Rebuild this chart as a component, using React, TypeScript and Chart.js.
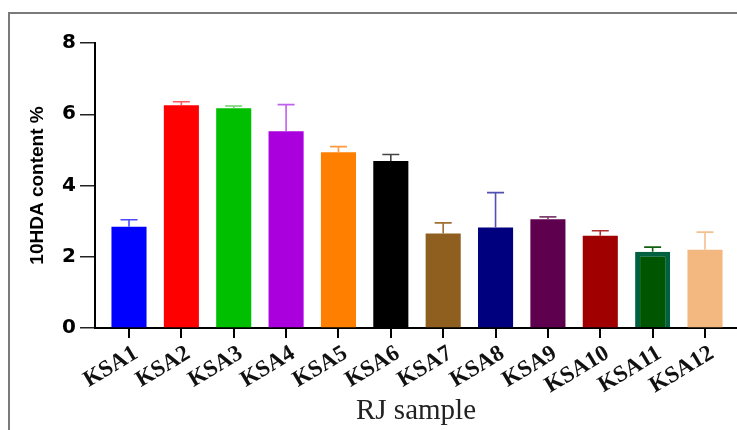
import React, { useEffect, useRef } from "react";
import { Chart, registerables } from "chart.js";

Chart.register(...registerables);

const categories = ["KSA1", "KSA2", "KSA3", "KSA4", "KSA5", "KSA6", "KSA7", "KSA8", "KSA9", "KSA10", "KSA11", "KSA12"];
const means = [2.84, 6.25, 6.17, 5.52, 4.93, 4.69, 2.65, 2.82, 3.05, 2.59, 2.14, 2.2];
const sds = [0.2, 0.1, 0.06, 0.75, 0.16, 0.18, 0.3, 0.98, 0.07, 0.14, 0.13, 0.49];
const barColors = ["#0000ff", "#ff0000", "#00bf00", "#aa00dd", "#ff8000", "#000000", "#8f5f20", "#00007f", "#5f004f", "#a00000", "#005500", "#f2b880"];
const barBorderColors = ["#0000ff", "#ff0000", "#00bf00", "#aa00dd", "#ff8000", "#000000", "#8f5f20", "#00007f", "#5f004f", "#a00000", "#006040", "#f2b880"];
const barBorderWidths = [0, 0, 0, 0, 0, 0, 0, 0, 0, 0, 5, 0];
const errColors = ["#4a4aff", "#ff5a5a", "#70d070", "#c060f0", "#ff9a40", "#444444", "#a07030", "#5050b0", "#804070", "#b03030", "#106010", "#f4c090"];
const yTicks = [0, 2, 4, 6, 8];

const errorBarPlugin = {
  id: "errorBars",
  afterDatasetsDraw(chart: any) {
    const ctx = chart.ctx;
    const meta = chart.getDatasetMeta(0);
    const yScale = chart.scales.y;
    ctx.save();
    meta.data.forEach((el: any, i: number) => {
      const x = el.x;
      const top = yScale.getPixelForValue(means[i] + sds[i]);
      const base = el.y;
      ctx.strokeStyle = errColors[i];
      ctx.lineWidth = 1.6;
      ctx.beginPath();
      ctx.moveTo(x, base);
      ctx.lineTo(x, top);
      ctx.moveTo(x - 8.5, top);
      ctx.lineTo(x + 8.5, top);
      ctx.stroke();
    });
    ctx.restore();
  },
};

export default function App() {
  const canvasRef = useRef<HTMLCanvasElement | null>(null);

  useEffect(() => {
    if (!canvasRef.current) return;
    const chart = new Chart(canvasRef.current, {
      type: "bar",
      data: {
        datasets: [
          {
            data: means.map((m, i) => ({ x: i + 1, y: m })),
            backgroundColor: barColors,
            borderColor: barBorderColors,
            borderWidth: barBorderWidths,
            barPercentage: 0.67,
            categoryPercentage: 1,
          },
        ],
      },
      options: {
        animation: false,
        responsive: false,
        devicePixelRatio: 1,
        layout: { padding: { left: 0, top: 43, right: 0, bottom: 0 } },
        plugins: {
          legend: { display: false },
          tooltip: { enabled: false },
        },
        scales: {
          x: {
            type: "linear",
            offset: false,
            min: 0.3507,
            max: 12.611,
            afterBuildTicks: (axis: any) => {
              axis.ticks = categories.map((_, i) => ({ value: i + 1 }));
            },
            afterFit: (scale: any) => {
              scale.height = 102;
            },
            border: { display: true, color: "#000", width: 2 },
            grid: {
              offset: false,
              drawOnChartArea: false,
              drawTicks: true,
              tickLength: 10,
              lineWidth: 2,
              color: "#000",
            },
            ticks: {
              autoSkip: false,
              minRotation: 31,
              maxRotation: 31,
              padding: 2,
              labelOffset: 7,
              color: "#111",
              font: { family: "'Liberation Serif', 'Times New Roman', serif", size: 23, weight: "bold" },
              callback: (v: any) => categories[Math.round(Number(v)) - 1] ?? "",
            },
            title: {
              display: true,
              text: "RJ sample",
              color: "#222",
              padding: { top: 0, bottom: 1 },
              font: { family: "'Liberation Serif', 'Times New Roman', serif", size: 29, weight: "normal" },
            },
          },
          y: {
            type: "linear",
            min: 0,
            max: 8,
            afterBuildTicks: (axis: any) => {
              axis.ticks = yTicks.map((v) => ({ value: v }));
            },
            afterFit: (scale: any) => {
              scale.width = 95;
            },
            border: { display: true, color: "#000", width: 2 },
            grid: {
              drawOnChartArea: false,
              drawTicks: true,
              tickLength: 15,
              lineWidth: 1.5,
              color: "#222",
            },
            ticks: {
              padding: 4,
              color: "#000",
              font: { family: "'DejaVu Sans', Arial, sans-serif", size: 20, weight: "bold" },
            },
            title: {
              display: true,
              text: "10HDA content %",
              color: "#000",
              padding: { top: 26, bottom: 0 },
              font: { family: "'Liberation Sans', Arial, sans-serif", size: 19, weight: "bold" },
            },
          },
        },
      },
      plugins: [errorBarPlugin],
    });
    return () => chart.destroy();
  }, []);

  return (
    <div style={{ position: "absolute", left: 0, top: 0, width: 737, height: 430, background: "#fff", overflow: "hidden" }}>
      <div
        style={{
          position: "absolute",
          left: 8,
          top: 12,
          width: 740,
          height: 430,
          borderTop: "2px solid #7a7a7a",
          borderLeft: "2px solid #7a7a7a",
          boxSizing: "border-box",
        }}
      />
      <canvas ref={canvasRef} width={737} height={430} style={{ position: "absolute", left: 0, top: 0 }} />
    </div>
  );
}
